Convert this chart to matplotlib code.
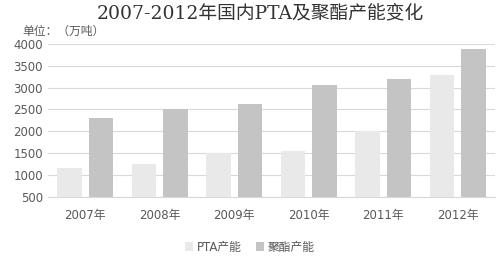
import numpy as np
import matplotlib.pyplot as plt

plt.rcParams['font.family'] = ['DejaVu Sans', 'Noto Sans CJK SC']

years = ['2007年', '2008年', '2009年', '2010年', '2011年', '2012年']
pta = [1160, 1260, 1500, 1550, 2000, 3300]
polyester = [2300, 2500, 2630, 3050, 3200, 3890]

fig = plt.figure(figsize=(5, 2.6), dpi=100)
ax = fig.add_axes([0.096, 0.243, 0.894, 0.588])

x = np.arange(len(years))
w = 0.33
ax.bar(x - 0.21, pta, w, bottom=0, color='#e9e9e9', label='PTA产能', zorder=3)
ax.bar(x + 0.21, polyester, w, bottom=0, color='#c4c4c4', label='聚酯产能', zorder=3)

ax.set_ylim(500, 4000)
ax.set_yticks(range(500, 4001, 500))
ax.set_xlim(-0.5, len(years) - 0.5)
ax.set_xticks(x)
ax.set_xticklabels(years)
ax.yaxis.grid(True, color='#d9d9d9', linewidth=0.8, zorder=0)
for s in ['top', 'right', 'left']:
    ax.spines[s].set_visible(False)
ax.spines['bottom'].set_color('#d9d9d9')
ax.tick_params(axis='both', length=0, colors='#595959', labelsize=8.5)
ax.tick_params(axis='x', pad=9)

fig.text(0.52, 0.95, '2007-2012年国内PTA及聚酯产能变化', ha='center', va='center',
         fontsize=13.5, color='#333333', family=['DejaVu Serif', 'Noto Sans CJK SC'])
fig.text(0.045, 0.88, '单位：（万吨）', ha='left', va='center', fontsize=8.5,
         color='#595959', family=['Noto Sans CJK SC', 'DejaVu Sans'])

ax.legend(loc='center', bbox_to_anchor=(0.5, 0.05), bbox_transform=fig.transFigure,
          ncol=2, frameon=False, fontsize=8.5, labelcolor='#595959',
          handlelength=0.7, handleheight=0.7, handletextpad=0.3, columnspacing=1.2)

fig.savefig('out.png', dpi=100)
